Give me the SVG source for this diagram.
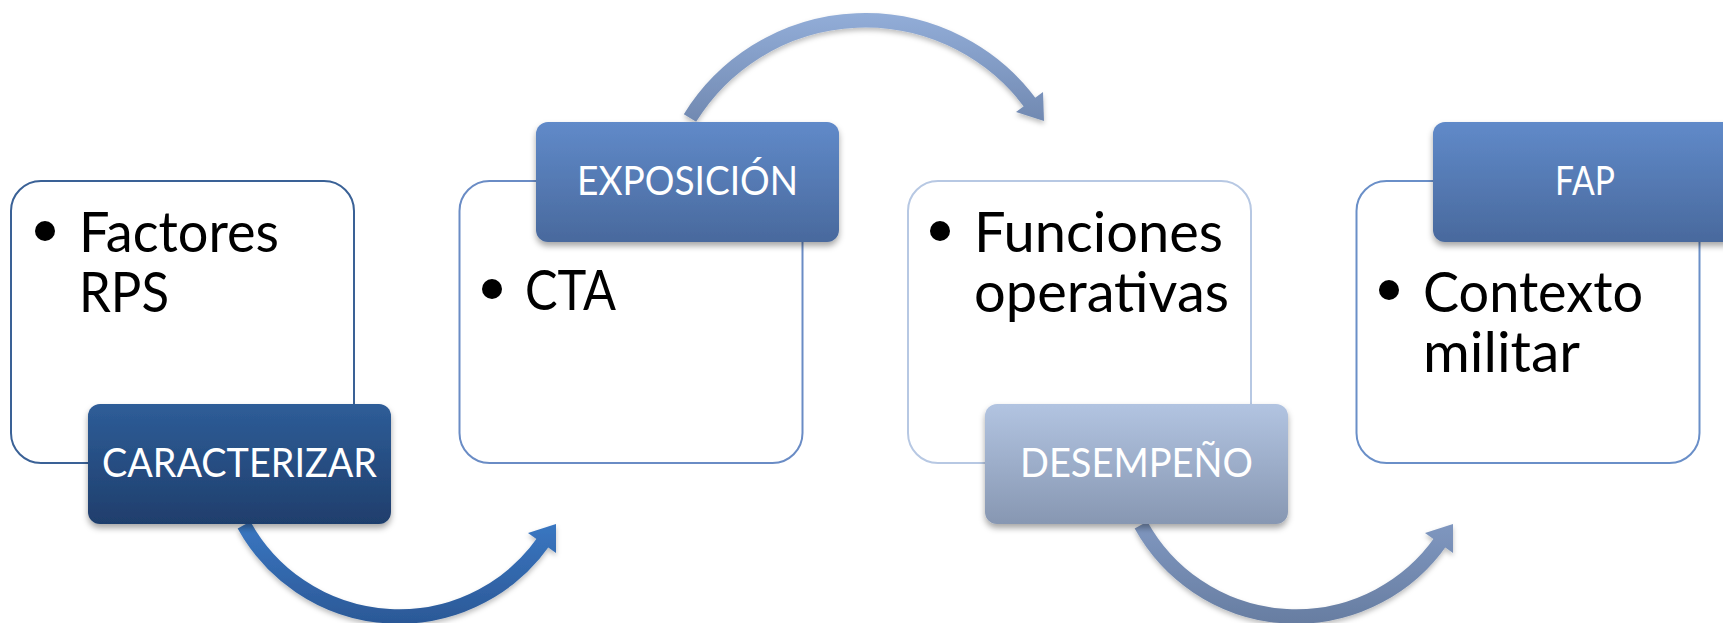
<svg xmlns="http://www.w3.org/2000/svg" width="1723" height="623" viewBox="0 0 1723 623">
  <style>
    .box { fill: #ffffff; stroke-width: 2; }
    .body { font-family: Lato, "Open Sans", "Liberation Sans", sans-serif; font-size: 57px; fill: #000000; }
    .lbl { font-family: Lato, "Open Sans", "Liberation Sans", sans-serif; font-size: 40.5px; fill: #ffffff; }
    .bullet { fill: #000000; }
    .arc { fill: none; stroke-width: 14.5; stroke-linecap: butt; }
  </style>
  <defs>
    <linearGradient id="gCar" x1="0" y1="0" x2="0" y2="1">
      <stop offset="0" stop-color="#2e5d98"/>
      <stop offset="1" stop-color="#1f3e6c"/>
    </linearGradient>
    <linearGradient id="gExp" x1="0" y1="0" x2="0" y2="1">
      <stop offset="0" stop-color="#608ac9"/>
      <stop offset="1" stop-color="#49699d"/>
    </linearGradient>
    <linearGradient id="gDes" x1="0" y1="0" x2="0" y2="1">
      <stop offset="0" stop-color="#b2c4e1"/>
      <stop offset="1" stop-color="#8797b2"/>
    </linearGradient>
    <linearGradient id="gA1" gradientUnits="userSpaceOnUse" x1="0" y1="515" x2="0" y2="625">
      <stop offset="0" stop-color="#3b79c5"/>
      <stop offset="1" stop-color="#2b5896"/>
    </linearGradient>
    <linearGradient id="gA2" gradientUnits="userSpaceOnUse" x1="0" y1="10" x2="0" y2="125">
      <stop offset="0" stop-color="#93aed9"/>
      <stop offset="1" stop-color="#7088b0"/>
    </linearGradient>
    <linearGradient id="gA3" gradientUnits="userSpaceOnUse" x1="0" y1="515" x2="0" y2="625">
      <stop offset="0" stop-color="#8199c2"/>
      <stop offset="1" stop-color="#677da1"/>
    </linearGradient>
    <filter id="shLbl" x="-10%" y="-10%" width="120%" height="130%">
      <feDropShadow dx="0" dy="4" stdDeviation="3" flood-color="#000000" flood-opacity="0.35"/>
    </filter>
    <filter id="shArc" x="-10%" y="-10%" width="120%" height="130%">
      <feDropShadow dx="0" dy="3" stdDeviation="2.5" flood-color="#000000" flood-opacity="0.25"/>
    </filter>
  </defs>

  <g id="connectors">
    <g id="arrow1" filter="url(#shArc)">
      <path class="arc" stroke="url(#gA1)" d="M 244 525 A 177 177 0 0 0 544 541"/>
      <polygon fill="url(#gA1)" points="556,524 528,533 556,553"/>
    </g>
    <g id="arrow2" filter="url(#shArc)">
      <path class="arc" stroke="url(#gA2)" d="M 690 118 A 206 206 0 0 1 1031 104"/>
      <polygon fill="url(#gA2)" points="1044,121 1016,112 1043,92"/>
    </g>
    <g id="arrow3" filter="url(#shArc)">
      <path class="arc" stroke="url(#gA3)" d="M 1141 525 A 177 177 0 0 0 1441 541"/>
      <polygon fill="url(#gA3)" points="1453,524 1425,533 1453,553"/>
    </g>
  </g>

  <g id="node1">
    <rect class="box" x="11" y="181" width="343" height="282" rx="30" stroke="#3a6196"/>
    <circle class="bullet" cx="45" cy="231" r="10"/>
    <text class="body" x="79" y="252" textLength="200" lengthAdjust="spacingAndGlyphs">Factores</text>
    <text class="body" x="79" y="312" textLength="90" lengthAdjust="spacingAndGlyphs">RPS</text>
  </g>
  <g id="label1">
    <rect x="88" y="404" width="303" height="120" rx="12" fill="url(#gCar)" filter="url(#shLbl)"/>
    <text class="lbl" x="102" y="477" textLength="275" lengthAdjust="spacingAndGlyphs">CARACTERIZAR</text>
  </g>

  <g id="node2">
    <rect class="box" x="459.5" y="181" width="343" height="282" rx="30" stroke="#6a8cc5"/>
    <circle class="bullet" cx="492" cy="289" r="10"/>
    <text class="body" x="525" y="310" textLength="91" lengthAdjust="spacingAndGlyphs">CTA</text>
  </g>
  <g id="label2">
    <rect x="536" y="122" width="303" height="120" rx="12" fill="url(#gExp)" filter="url(#shLbl)"/>
    <text class="lbl" x="577" y="195" textLength="221" lengthAdjust="spacingAndGlyphs">EXPOSICIÓN</text>
  </g>

  <g id="node3">
    <rect class="box" x="908" y="181" width="343" height="282" rx="30" stroke="#b7c8e3"/>
    <circle class="bullet" cx="940" cy="231" r="10"/>
    <text class="body" x="974" y="252" textLength="249" lengthAdjust="spacingAndGlyphs">Funciones</text>
    <text class="body" x="974" y="312" textLength="255" lengthAdjust="spacingAndGlyphs">operativas</text>
  </g>
  <g id="label3">
    <rect x="985" y="404" width="303" height="120" rx="12" fill="url(#gDes)" filter="url(#shLbl)"/>
    <text class="lbl" x="1020" y="477" textLength="233" lengthAdjust="spacingAndGlyphs">DESEMPEÑO</text>
  </g>

  <g id="node4">
    <rect class="box" x="1356.5" y="181" width="343" height="282" rx="30" stroke="#6a8fc8"/>
    <circle class="bullet" cx="1389" cy="290" r="10"/>
    <text class="body" x="1423" y="312" textLength="220" lengthAdjust="spacingAndGlyphs">Contexto</text>
    <text class="body" x="1423" y="372" textLength="157" lengthAdjust="spacingAndGlyphs">militar</text>
  </g>
  <g id="label4">
    <rect x="1433" y="122" width="303" height="120" rx="12" fill="url(#gExp)" filter="url(#shLbl)"/>
    <text class="lbl" x="1555" y="195" textLength="60" lengthAdjust="spacingAndGlyphs">FAP</text>
  </g>
</svg>
